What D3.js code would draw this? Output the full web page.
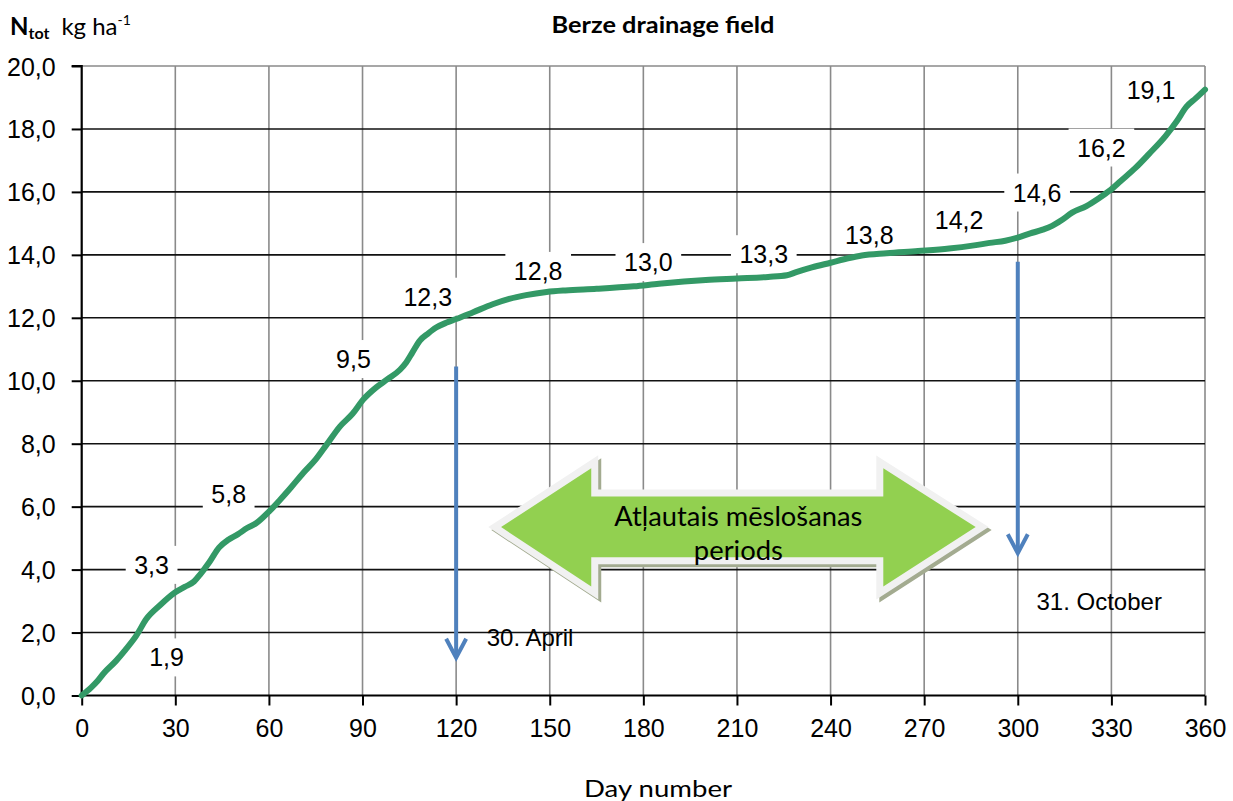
<!DOCTYPE html>
<html>
<head>
<meta charset="utf-8">
<script src="https://cdn.jsdelivr.net/npm/d3@7"></script>
<style>
  html, body { margin: 0; padding: 0; background: #fff; }
  svg { display: block; }
</style>
</head>
<body>
<svg id="chart" width="1233" height="801"></svg>
<script>
// ---- data ----
const days = [0, 3, 5, 7, 11, 14, 17.5, 20.7, 25, 30, 33, 36, 38, 41, 44, 47, 50, 53, 56, 60,
  63.6, 67, 71, 75, 78.5, 82.8, 86.8, 90.2, 94.4, 98, 102, 104, 106, 108.3, 111, 113.6, 117, 120,
  125.3, 131.7, 137, 142.4, 149, 155, 165, 177, 185, 193, 200, 210, 220, 226, 229, 234, 240, 246,
  250, 258, 268, 278, 286, 291, 296, 300, 304, 308, 311, 314, 317.4, 322, 326, 329.3, 333, 337.8,
  342, 347.4, 351, 354, 357, 360];
const nValues = [0, 0.25, 0.45, 0.7, 1.1, 1.45, 1.9, 2.43, 2.86, 3.28, 3.45, 3.62, 3.85, 4.25, 4.7,
  4.95, 5.12, 5.32, 5.48, 5.84, 6.22, 6.6, 7.07, 7.5, 7.97, 8.55, 8.95, 9.4, 9.79, 10.05, 10.35,
  10.58, 10.9, 11.27, 11.5, 11.69, 11.85, 11.96, 12.17, 12.43, 12.6, 12.72, 12.82, 12.87, 12.92,
  13.0, 13.08, 13.15, 13.2, 13.25, 13.3, 13.35, 13.45, 13.6, 13.75, 13.9, 13.98, 14.05, 14.12,
  14.2, 14.3, 14.38, 14.45, 14.55, 14.68, 14.8, 14.92, 15.1, 15.34, 15.55, 15.8, 16.03, 16.35,
  16.77, 17.2, 17.78, 18.25, 18.7, 18.97, 19.25];

const xTicks = [0, 30, 60, 90, 120, 150, 180, 210, 240, 270, 300, 330, 360];
const yTicks = [0, 2, 4, 6, 8, 10, 12, 14, 16, 18, 20];

const labelTexts = ["1,9", "3,3", "5,8", "9,5", "12,3", "12,8", "13,0", "13,3", "13,8", "14,2", "14,6", "16,2", "19,1"];
const labelDays  = [27.2, 22.4, 47.1, 87.1, 110.9, 146.3, 181.6, 218.6, 252.4, 281.2, 306.2, 326.8, 342.7];
const labelVals  = [1.21, 4.15, 6.40, 10.69, 12.67, 13.49, 13.77, 14.02, 14.62, 15.1, 15.98, 17.41, 19.24];

const arrowDays = [120, 300];
const arrowFrom = [10.45, 13.78];
const arrowTo   = [1.2, 4.52];
const arrowNotes = ["30. April", "31. October"];
const noteDays = [129.8, 306.0];
const noteVals = [1.86, 3.0];

const periodText = ["Atļautais mēslošanas", "periods"];
const titleText = "Berze drainage field";
const xTitle = "Day number";

// ---- scales ----
const svg = d3.select("#chart");
const x = d3.scaleLinear().domain([0, 360]).range([81.7, 1205]);
const y = d3.scaleLinear().domain([0, 20]).range([695.5, 66]);
const fmt = v => d3.format(".1f")(v).replace(".", ",");

// ---- grid ----
const g = svg.append("g");
g.selectAll(".vg").data(xTicks.filter(d => d > 0)).enter().append("line")
  .attr("x1", d => x(d)).attr("x2", d => x(d)).attr("y1", y(20)).attr("y2", y(0))
  .attr("stroke", "#8a8a8a").attr("stroke-width", 1.6);
g.selectAll(".hg").data(yTicks.filter(d => d > 0)).enter().append("line")
  .attr("x1", x(0)).attr("x2", x(360)).attr("y1", d => y(d)).attr("y2", d => y(d))
  .attr("stroke", d => d === 20 ? "#8a8a8a" : "#111").attr("stroke-width", 1.6);

// ---- axes ----
const yAxis = d3.axisLeft(y).tickValues(yTicks).tickFormat(fmt).tickSize(10).tickPadding(16);
const xAxis = d3.axisBottom(x).tickValues(xTicks).tickFormat(d3.format("d")).tickSize(10).tickPadding(14);
const ya = svg.append("g").attr("transform", `translate(${x(0)},0)`).call(yAxis);
const xa = svg.append("g").attr("transform", `translate(0,${y(0)})`).call(xAxis);
[ya, xa].forEach(a => {
  a.select(".domain").attr("stroke", "#000").attr("stroke-width", 2.2);
  a.selectAll(".tick line").attr("stroke", "#000").attr("stroke-width", 2);
  a.selectAll(".tick text").attr("font-family", "Liberation Sans, Arial, sans-serif")
    .attr("font-size", 25).attr("fill", "#000");
});
ya.select(".domain").attr("d", `M-10,${y(20)}H0V${y(0)}`);
xa.select(".domain").attr("d", `M${x(0)},0H${x(360)}`);
ya.selectAll(".tick text").attr("dy", "0.36em");
xa.selectAll(".tick text").attr("dy", "0.71em");

// ---- value labels with white boxes (under the curve) ----
const lg = svg.append("g");
labelTexts.forEach((t, i) => {
  const px = x(labelDays[i]), py = y(labelVals[i]);
  const grp = lg.append("g");
  const rect = grp.append("rect").attr("fill", "#fff");
  const tx = grp.append("text").attr("x", px).attr("y", py).attr("dy", "0.36em")
    .attr("text-anchor", "middle").attr("font-family", "Liberation Sans, Arial, sans-serif")
    .attr("font-size", 25).attr("fill", "#000").text(t);
  const w = tx.node().getComputedTextLength();
  rect.attr("x", px - w / 2 - 8.5).attr("y", py - 19).attr("width", w + 17).attr("height", 38);
});

// ---- fertilisation period double arrow ----
const ad = { tipL: 134.4, baseL: 163.3, baseR: 256.9, tipR: 286.5 };
const av = { mid: 5.35, headTop: 7.22, headBot: 3.46, shaftTop: 6.32, shaftBot: 4.39 };
const arrowPts = [
  [ad.tipL, av.mid], [ad.baseL, av.headTop], [ad.baseL, av.shaftTop], [ad.baseR, av.shaftTop],
  [ad.baseR, av.headTop], [ad.tipR, av.mid], [ad.baseR, av.headBot], [ad.baseR, av.shaftBot],
  [ad.baseL, av.shaftBot], [ad.baseL, av.headBot]
].map(p => [x(p[0]), y(p[1])]);
const poly = d3.line().curve(d3.curveLinearClosed);
svg.append("path").attr("d", poly(arrowPts)).attr("transform", "translate(3,3)")
  .attr("fill", "#a3ab90").attr("stroke", "#a3ab90").attr("stroke-width", 14).attr("stroke-linejoin", "miter").attr("stroke-miterlimit", 10);
svg.append("path").attr("d", poly(arrowPts))
  .attr("fill", "#f1f1f1").attr("stroke", "#f1f1f1").attr("stroke-width", 14).attr("stroke-linejoin", "miter").attr("stroke-miterlimit", 10);
svg.append("path").attr("d", poly(arrowPts)).attr("fill", "#92d050");
const cx = (x(ad.tipL) + x(ad.tipR)) / 2;
svg.append("text").attr("x", cx).attr("y", 526).attr("text-anchor", "middle")
  .attr("font-family", "Lato, 'Open Sans', sans-serif").attr("font-size", 26)
  .attr("textLength", 248).attr("lengthAdjust", "spacingAndGlyphs").text(periodText[0]);
svg.append("text").attr("x", cx).attr("y", 560).attr("text-anchor", "middle")
  .attr("font-family", "Lato, 'Open Sans', sans-serif").attr("font-size", 26)
  .attr("textLength", 89).attr("lengthAdjust", "spacingAndGlyphs").text(periodText[1]);

// ---- blue date arrows ----
const blue = "#4f81bd";
arrowDays.forEach((d, i) => {
  const xx = x(d), y1 = y(arrowFrom[i]), y2 = y(arrowTo[i]);
  svg.append("line").attr("x1", xx).attr("x2", xx).attr("y1", y1).attr("y2", y2 - 2)
    .attr("stroke", blue).attr("stroke-width", 4);
  svg.append("path").attr("d", `M${xx - 10},${y2 - 19}L${xx},${y2}L${xx + 10},${y2 - 19}`)
    .attr("fill", "none").attr("stroke", blue).attr("stroke-width", 4).attr("stroke-linejoin", "miter");
  svg.append("text").attr("x", x(noteDays[i])).attr("y", y(noteVals[i])).attr("text-anchor", "start")
    .attr("dy", "0.36em").attr("font-family", "Liberation Sans, Arial, sans-serif").attr("font-size", 24)
    .text(arrowNotes[i]);
});

// ---- curve ----
const line = d3.line().x(d => x(d[0])).y(d => y(d[1])).curve(d3.curveMonotoneX);
svg.append("path").datum(days.map((d, i) => [d, nValues[i]]))
  .attr("d", line).attr("fill", "none").attr("stroke", "#339966").attr("stroke-width", 6)
  .attr("stroke-linecap", "round").attr("stroke-linejoin", "round");

// ---- titles ----
svg.append("text").attr("x", 663).attr("y", 33).attr("text-anchor", "middle")
  .attr("font-family", "Lato, 'Open Sans', sans-serif").attr("font-weight", "bold").attr("font-size", 23)
  .attr("textLength", 223).attr("lengthAdjust", "spacingAndGlyphs").text(titleText);
svg.append("text").attr("x", 658).attr("y", 797).attr("text-anchor", "middle")
  .attr("font-family", "Lato, 'Open Sans', sans-serif").attr("font-size", 23)
  .attr("textLength", 148).attr("lengthAdjust", "spacingAndGlyphs").text(xTitle);

const yl = svg.append("text").attr("x", 10).attr("y", 35)
  .attr("font-family", "Lato, 'Open Sans', sans-serif").attr("fill", "#000");
yl.append("tspan").attr("font-weight", "bold").attr("font-size", 24).text("N");
yl.append("tspan").attr("font-weight", "bold").attr("font-size", 16).attr("dy", 4).text("tot");
yl.append("tspan").attr("font-size", 24).attr("dy", -4).attr("dx", 12).text("kg ha");
yl.append("tspan").attr("font-size", 14).attr("dy", -10).text("-1");
</script>
</body>
</html>
